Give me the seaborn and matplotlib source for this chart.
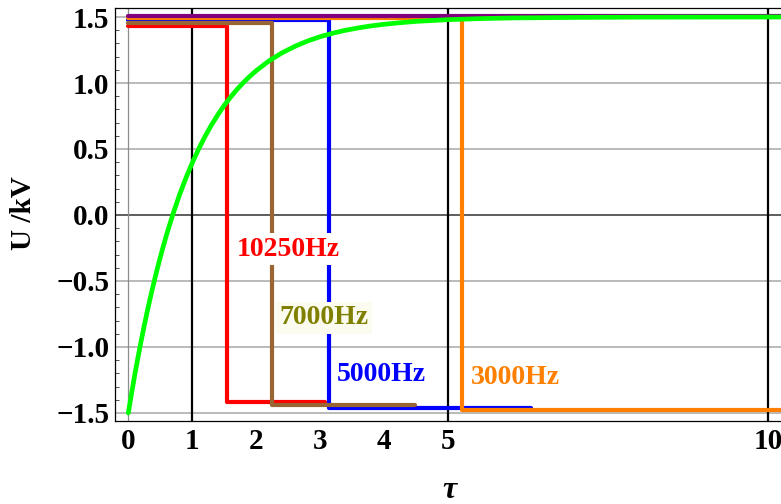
import numpy as np
import pandas as pd
import matplotlib
matplotlib.use("Agg")
import matplotlib.pyplot as plt
from matplotlib.ticker import MultipleLocator
import seaborn as sns

# Square-wave responses: high level until the switching time, then low level
labels = ["10250Hz", "7000Hz", "5000Hz", "3000Hz", "DC"]
colors = ["#ff0000", "#996633", "#0000ff", "#ff8000", "#800080"]
high_level = [1.43, 1.455, 1.475, 1.49, 1.51]
low_level = [-1.42, -1.44, -1.46, -1.48, 1.51]
switch_tau = [1.54, 2.24, 3.14, 5.21, 10.2]
end_tau = [3.08, 4.48, 6.29, 10.2, 10.2]

# Charging curve read at sample times
charge_tau = [0, 0.05, 0.1, 0.15, 0.2, 0.25, 0.3, 0.35, 0.4, 0.45, 0.5, 0.55,
              0.6, 0.7, 0.8, 0.9, 1.0, 1.1, 1.2, 1.3, 1.4, 1.5, 1.6, 1.7, 1.8,
              1.9, 2.0, 2.2, 2.4, 2.6, 2.8, 3.0, 3.2, 3.4, 3.6, 3.8, 4.0, 4.25,
              4.5, 5.0, 5.5, 6.0, 7.0, 8.0, 10.2]
charge_u = [-1.5, -1.354, -1.214, -1.082, -0.956, -0.836, -0.722, -0.614,
            -0.511, -0.413, -0.320, -0.231, -0.146, 0.010, 0.152, 0.280, 0.396,
            0.501, 0.596, 0.682, 0.760, 0.831, 0.894, 0.952, 1.004, 1.051,
            1.094, 1.168, 1.228, 1.277, 1.318, 1.351, 1.378, 1.400, 1.418,
            1.433, 1.445, 1.457, 1.467, 1.480, 1.488, 1.493, 1.497, 1.499, 1.5]

# Text annotations
text_labels = ["10250Hz", "7000Hz", "5000Hz", "3000Hz"]
text_colors = ["#ff0000", "#808000", "#0000ff", "#ff8000"]
text_x = [1.70, 2.36, 3.26, 5.35]
text_y = [-0.26, -0.78, -1.21, -1.23]
text_bg = ["white", "#fbfcef", "none", "none"]

sns.set_theme(style="white")
plt.rcParams["font.family"] = ["Liberation Serif", "DejaVu Serif"]
plt.rcParams["font.weight"] = "bold"
for key in ["text.color", "axes.labelcolor", "xtick.color", "ytick.color"]:
    plt.rcParams[key] = "black"

fig = plt.figure(figsize=(7.81, 5.04), dpi=100)
ax = fig.add_axes([115 / 781, (504 - 421) / 504, (781 - 115) / 781, (421 - 8.3) / 504])

# Reference lines
for yv in [-1.5, -1.0, -0.5, 0.5, 1.0, 1.5]:
    ax.axhline(yv, color="#b4b4b4", lw=1.3, zorder=0)
ax.axhline(0, color="#505050", lw=1.3, zorder=0.5)
ax.axvline(0, color="#8c8c8c", lw=0.9, zorder=0.5)
for xv in [1, 5, 10]:
    ax.axvline(xv, color="black", lw=1.6, zorder=0.6)

# Step traces
order = [0, 2, 1, 3, 4]
for i in order:
    df = pd.DataFrame({
        "tau": [0, switch_tau[i], switch_tau[i], end_tau[i]],
        "U": [high_level[i], high_level[i], low_level[i], low_level[i]],
    })
    sns.lineplot(data=df, x="tau", y="U", sort=False, estimator=None,
                 color=colors[i], lw=3.0, ax=ax, zorder=2 + order.index(i))

sns.lineplot(x=charge_tau, y=charge_u, sort=False, estimator=None,
             color="#00ff00", lw=3.4, ax=ax, zorder=10)

for t, c, x, y, bg in zip(text_labels, text_colors, text_x, text_y, text_bg):
    kw = {}
    if bg != "none":
        kw["bbox"] = dict(boxstyle="square,pad=0.12", fc=bg, ec="none")
    ax.text(x, y, t, color=c, fontsize=20, fontweight="bold", ha="left",
            va="center", zorder=20, **kw)

ax.set_xlim(-0.208, 10.2)
ax.set_ylim(-1.561, 1.566)
ax.set_xticks([0, 1, 2, 3, 4, 5, 10])
ax.set_xticklabels(["0", "1", "2", "3", "4", "5", "10"])
ax.set_yticks([-1.5, -1.0, -0.5, 0.0, 0.5, 1.0, 1.5])
ax.set_yticklabels(["\u22121.5", "\u22121.0", "\u22120.5", "0.0", "0.5", "1.0", "1.5"])
ax.yaxis.set_minor_locator(MultipleLocator(0.1))
ax.tick_params(axis="both", which="major", direction="in", length=5, width=0.8,
               color="#333333", labelsize=21, pad=4)
ax.tick_params(axis="y", which="minor", direction="in", length=3, width=0.6,
               color="#333333", left=True)
ax.tick_params(axis="x", pad=5)
for lab in ax.get_xticklabels() + ax.get_yticklabels():
    lab.set_fontweight("bold")

for side in ["left", "bottom", "top"]:
    ax.spines[side].set_visible(True)
    ax.spines[side].set_color("black")
    ax.spines[side].set_linewidth(0.9)
ax.spines["right"].set_visible(False)

ax.set_xlabel("\u03c4", fontsize=23, fontweight="bold", fontstyle="italic")
ax.set_ylabel("U /kV", fontsize=21, fontweight="bold")
ax.xaxis.set_label_coords((449 - 115) / 666, (421 - 476) / 412.7)
ax.yaxis.set_label_coords((37 - 115) / 666, (421 - 213) / 412.7)

fig.savefig("out.png", dpi=100)
